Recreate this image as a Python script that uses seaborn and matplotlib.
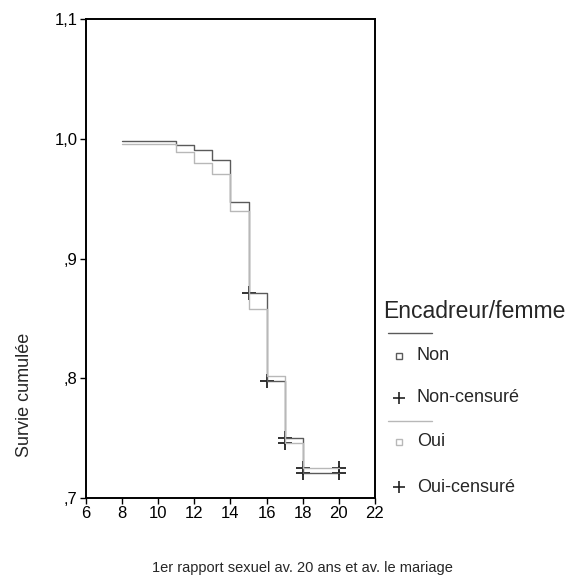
import matplotlib
matplotlib.use("Agg")
import matplotlib.pyplot as plt
from matplotlib.lines import Line2D
import seaborn as sns
import pandas as pd

# Kaplan-Meier step values (survival after each event time)
times = [8, 11, 12, 13, 14, 15, 16, 17, 18, 20]
surv_non = [0.998, 0.995, 0.9905, 0.982, 0.947, 0.871, 0.798, 0.750, 0.721, 0.721]
surv_oui = [0.996, 0.989, 0.980, 0.971, 0.940, 0.858, 0.8015, 0.746, 0.725, 0.725]

# Censored observations (time, survival)
cens_non_t = [15, 16, 17, 18, 20]
cens_non_s = [0.871, 0.798, 0.750, 0.721, 0.721]
cens_oui_t = [17, 18, 20]
cens_oui_s = [0.746, 0.725, 0.725]

groups = ["Non", "Oui"]
x_ticks = [6, 8, 10, 12, 14, 16, 18, 20, 22]
y_ticks = [0.7, 0.8, 0.9, 1.0, 1.1]
y_tick_labels = [",7", ",8", ",9", "1,0", "1,1"]

sns.set_theme(style="white")
plt.rcParams["font.family"] = ["Liberation Sans", "DejaVu Sans"]

df = pd.DataFrame({
    "t": times + times,
    "s": surv_non + surv_oui,
    "grp": [groups[0]] * len(times) + [groups[1]] * len(times),
})

palette = {"Non": "#5a5a5a", "Oui": "#b8b8b8"}

fig = plt.figure(figsize=(5.71, 5.80), dpi=100)
ax = fig.add_axes([0.1506, 0.1414, 0.5061, 0.8256])

sns.lineplot(data=df, x="t", y="s", hue="grp", palette=palette,
             drawstyle="steps-post", linewidth=1.0, legend=False, ax=ax,
             estimator=None, sort=False)

cens = pd.DataFrame({
    "t": cens_non_t + cens_oui_t,
    "s": cens_non_s + cens_oui_s,
    "grp": ["Non"] * len(cens_non_t) + ["Oui"] * len(cens_oui_t),
})
sns.scatterplot(data=cens, x="t", y="s", marker="+", color="#222222",
                s=90, linewidth=1.3, legend=False, ax=ax)

ax.set_xlim(6, 22)
ax.set_ylim(0.7, 1.1)
ax.set_xticks(x_ticks)
ax.set_xticklabels([str(v) for v in x_ticks], fontsize=12)
ax.set_yticks(y_ticks)
ax.set_yticklabels(y_tick_labels, fontsize=12)
ax.set_xlabel("")
ax.set_ylabel("")
for sp in ax.spines.values():
    sp.set_color("black")
    sp.set_linewidth(1.4)
ax.tick_params(axis="both", direction="out", length=4, width=1.0,
               color="black", labelcolor="black", pad=2,
               left=True, bottom=True)

fig.text(25 / 571, 1 - 395 / 580, "Survie cumulée", rotation=90,
         ha="center", va="center", fontsize=13)
fig.text(302 / 571, 1 - 568 / 580,
         "1er rapport sexuel av. 20 ans et av. le mariage",
         ha="center", va="center", fontsize=10.5)

# Legend block drawn to the right of the axes
def fy(y):
    return 1 - y / 580

def fx(x):
    return x / 571

fig.text(fx(383), fy(311), "Encadreur/femme", ha="left", va="center", fontsize=16.5)
entries = [
    (333, "line", "#5a5a5a", None),
    (356, "square", "#5a5a5a", "Non"),
    (398, "plus", "#222222", "Non-censuré"),
    (421, "line", "#b8b8b8", None),
    (442, "square", "#b8b8b8", "Oui"),
    (487, "plus", "#222222", "Oui-censuré"),
]
for y, kind, col, label in entries:
    if kind == "line":
        fig.add_artist(Line2D([fx(388), fx(432)], [fy(y), fy(y)],
                              color=col, linewidth=1.0))
    elif kind == "square":
        fig.add_artist(Line2D([fx(399)], [fy(y)], marker="s", markersize=4,
                              markerfacecolor="white", markeredgecolor=col,
                              markeredgewidth=1.0, linestyle="none"))
    else:
        fig.add_artist(Line2D([fx(399)], [fy(y)], marker="+", markersize=8,
                              color=col, markeredgewidth=1.2, linestyle="none"))
    if label:
        fig.text(fx(417), fy(y), label, ha="left", va="center", fontsize=13)

fig.savefig("out.png", dpi=100)
